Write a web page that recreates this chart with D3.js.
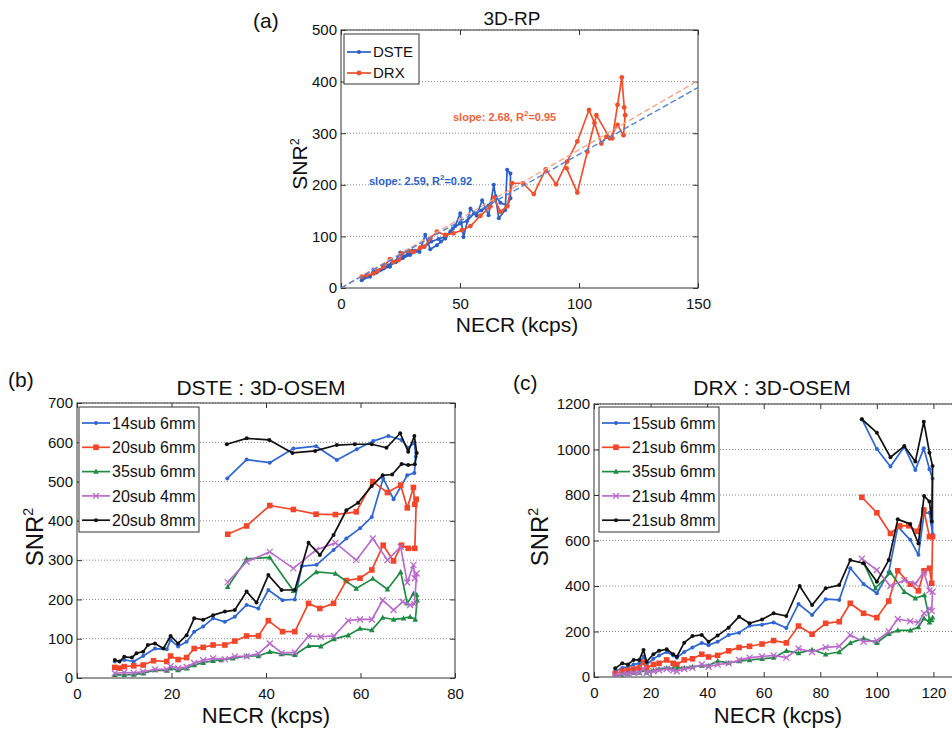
<!DOCTYPE html>
<html>
<head>
<meta charset="utf-8">
<script src="https://cdn.jsdelivr.net/npm/d3@7"></script>
<style>
  body { margin: 0; background: #fff; }
  text { font-family: "Liberation Sans", Arial, Helvetica, sans-serif; fill: #111; }
</style>
</head>
<body>
<svg id="chart" width="952" height="731"></svg>
<script>
// ---------- DATA ----------
// (a) 3D-RP : [NECR, SNR^2]
const dsteRP = [[8.7,15],[10,20],[11,24],[12.2,22],[13.6,36],[15,30],[16.4,35],[18,38],[20.6,41],[21.3,48],[23,52],[24.9,69],[26.3,61],[28,66],[30,72],[31.2,72],[33,70],[35.4,103],[37.5,75],[40.3,83],[42,90],[43.8,96],[46,110],[48,120],[50.1,145],[51.5,99],[54.4,154],[57,140],[59.3,170],[62,141],[64.2,200],[66.3,135],[69,151],[69.8,229],[71.2,222],[71.2,174],[70,160],[67,165],[65,178],[62,160],[59,150],[56,145],[53,130],[50,125],[47,115],[44,100],[41,95],[38,90],[35,80],[32,72],[29,64],[26,58],[23,50],[20,44],[17,36],[14,29],[11,22],[9,17]]
const drxRP = [[8.7,22],[10.8,25],[13.6,28],[15.5,33],[17.8,41],[20.6,56],[22,50],[24.2,54],[25.6,67],[28.4,72],[30.5,70],[33.3,78],[35,80],[37.5,96],[40.3,109],[43.8,103],[47.3,106],[50.8,112],[54.4,120],[58.6,140],[62.8,158],[64.2,175],[67,148],[69.8,158],[71.9,203],[76.5,203],[81,182],[86,230],[90.4,201],[95,245],[99.3,284],[104.2,345],[106.5,320],[109.4,280],[111.5,293],[114,290],[116.2,355],[118,408],[119,350],[119.4,335],[118.7,296],[116.2,316],[113,290],[107.3,335],[103.5,264],[99.3,185],[94.8,232]]
const fitSlopes = { dste: 2.59, drx: 2.68 }

// (b) DSTE : 3D-OSEM
const dste14sub6 = [[8,42],[10,46],[12,42],[14,56],[16.5,75],[19,73],[19.8,97],[21.4,80],[23.2,92],[24.8,118],[26.7,131],[28.8,152],[31.3,143],[33.4,156],[35.9,186],[38.4,177],[40.5,224],[43.5,198],[46.1,200],[47.6,285],[50.7,288],[54.3,326],[57,355],[59.9,381],[62.4,410],[64.8,508],[67,455],[69.9,516],[71.4,522],[71.7,563],
  [71.4,599],[70.1,586],[68.7,606],[65.9,616],[62.7,603],[59.2,582],[55,555],[50.6,590],[45.8,584],[40.8,548],[35.9,556],[31.8,508]]
const dste20sub6 = [[8,27],[9,25],[10,29],[12,31],[14,33],[16.2,44],[19,42],[19.8,56],[21.4,47],[23.2,52],[24.8,75],[26.7,78],[28.8,84],[31.3,84],[33.4,94],[35.9,107],[38.4,107],[40.5,146],[43.5,118],[46.1,118],[49,190],[51.4,177],[54.3,190],[57,248],[59.9,254],[62.4,275],[64.8,338],[67,298],[68.7,338],[70.1,330],[71.5,330],
  [71.8,455],[71.5,442],[71.2,485],[69.9,433],[68.5,491],[65.7,472],[62.6,500],[59.1,423],[54.7,416],[50.6,417],[45.8,429],[40.8,439],[35.9,387],[31.9,366]]
const dste35sub6 = [[8,8],[10,8],[12,9],[14,12],[16.5,20],[19,19],[19.8,25],[21.4,20],[23.2,25],[24.8,33],[26.7,39],[28.8,44],[30.5,46],[33,50],[35.9,56],[38.4,56],[40.8,67],[43.3,61],[46.1,59],[49,82],[51.6,81],[54.4,99],[57.4,109],[59.9,126],[62.4,122],[64.7,154],[67,149],[69.1,152],[70.5,156],[71.6,149],
  [72,198],[71.9,212],[71.2,215],[69.9,190],[68.5,270],[65.7,226],[62.6,253],[59.1,228],[54.7,266],[50.6,270],[45.8,222],[40.8,307],[35.9,303],[31.9,232]]
const dste20sub4 = [[8,12],[10,14],[12,13],[14,16],[16.5,22],[19,22],[19.8,30],[21.4,25],[23.2,28],[24.8,38],[26.7,45],[28.8,50],[31.3,48],[33.4,55],[35.9,55],[38.4,62],[40.8,88],[43.3,64],[46.1,65],[49,107],[51.6,105],[54.4,107],[57.4,146],[59.9,149],[62.4,149],[64.7,198],[67,173],[68.9,194],[70.5,186],[71.4,188],
  [71.9,266],[71.5,254],[71.2,288],[69.9,243],[68.5,334],[65.7,300],[62.6,355],[59.1,300],[54.7,344],[50.6,326],[45.8,279],[40.8,321],[35.9,296],[31.9,244]]
const dste20sub8 = [[8,46],[9,42],[10,54],[11.6,52],[12.6,63],[14,67],[15,84],[16.5,88],[18.3,75],[19.8,107],[21.4,88],[23.2,109],[24.8,152],[26.7,148],[28.8,160],[31.3,169],[33.4,173],[35.9,220],[38,192],[40.5,262],[43.3,224],[46.1,224],[49,344],[51.4,313],[54.3,364],[57,427],[59.5,446],[62.4,489],[64.7,516],[66.7,518],[68.7,545],[70.1,542],[71.5,544],
  [71.9,573],[71.4,616],[70.1,576],[68.4,623],[65.5,586],[62.4,595],[58.8,595],[55,593],[50.4,578],[45.6,573],[40.7,606],[35.9,610],[31.7,595]]

// (c) DRX : 3D-OSEM
const drx15sub6 = [[7.5,25],[10,40],[12,45],[14,55],[16,60],[17.5,90],[18.6,55],[21,80],[23,95],[25.7,110],[28,95],[29.3,85],[31.9,110],[34.8,130],[38.1,150],[40.5,140],[43.7,155],[47.6,185],[51.3,195],[55,225],[59.4,230],[63.5,240],[68,215],[72.3,321],[77.1,273],[81.9,342],[86.7,339],[90.6,478],[95.3,409],[100,368],[104.2,460],[107.4,661],[111.8,603],[114.7,537],[116.7,720],[118.6,722],[119.7,627],
  [119.7,873],[118.6,913],[116.6,1005],[113.6,910],[109.7,1012],[104.8,925],[100,1002],[94.7,1133]]
const drx21sub6 = [[7.5,15],[10,25],[12,30],[14,35],[16,40],[17.5,65],[18.6,40],[21,55],[23,60],[25.7,75],[28,60],[29.3,55],[31.9,75],[34.8,80],[38.1,100],[40.5,88],[43.7,95],[47.6,115],[51.3,130],[55,135],[59.4,145],[63.5,160],[68,150],[72.3,224],[77.1,188],[81.9,236],[86.7,243],[90.6,324],[95.3,280],[100,261],[104.2,334],[107.4,467],[111.8,408],[114.7,379],[116.7,467],[118.6,478],[119.4,412],
  [119.7,617],[118.6,617],[116.6,734],[114.3,640],[111.3,665],[108.1,664],[104.8,631],[100,722],[94.7,790]]
const drx35sub6 = [[7.5,5],[10,10],[12,15],[14,18],[16,20],[17.5,30],[18.6,20],[21,30],[23,35],[25.7,40],[28,38],[29.3,40],[31.9,40],[34.8,45],[38.1,50],[40.5,50],[43.7,70],[47.6,62],[51.3,70],[55,75],[59.4,80],[63.5,85],[68,115],[72.3,105],[77.1,120],[81.9,100],[86.7,110],[90.6,150],[95.3,170],[100,150],[104.2,190],[107.4,205],[111.8,205],[114.7,220],[116.7,258],[118.6,240],[119.4,250],
  [119.7,262],[118.6,253],[116.8,360],[113.6,346],[109.7,375],[104.8,459],[99.5,390],[95.3,503]]
const drx21sub4 = [[7.5,8],[10,12],[12,15],[14,18],[16,20],[17.5,35],[18.6,18],[21,25],[23,30],[25.7,35],[28,30],[29.3,25],[31.9,35],[34.8,40],[38.1,55],[40.5,45],[43.7,55],[47.6,60],[51.3,75],[55,85],[59.4,90],[63.5,95],[68,85],[72.3,125],[77.1,110],[81.9,130],[86.7,135],[90.6,185],[95.3,155],[100,160],[104.2,200],[107.4,255],[111.8,245],[114.7,240],[116.7,280],[118.6,300],[119.4,290],
  [119.7,375],[118.6,380],[116.6,460],[113.6,410],[109.7,425],[104.8,400],[100,470],[94.7,520]]
const drx21sub8 = [[7.5,38],[10,60],[12,55],[14,75],[16,75],[17.5,119],[18.6,67],[21,100],[23,115],[25.7,122],[28,100],[29.3,89],[31.9,151],[34.8,180],[38.1,185],[40.5,155],[43.7,182],[47.6,217],[51.3,265],[55,236],[59.4,253],[63.5,280],[68,268],[72.7,400],[77.1,316],[81.9,390],[86.7,404],[90.6,514],[95.3,500],[100,419],[104.2,514],[107.4,693],[111.8,673],[114.7,587],[116.7,796],[118.6,771],[119.4,683],
  [119.7,927],[118.6,986],[116.6,1122],[113.6,947],[109.7,1015],[104.8,966],[100,1074],[94.7,1133]]

// tick values
const ticksA = { x: [0, 50, 100, 150], y: [0, 100, 200, 300, 400, 500] }
const ticksB = { x: [0, 20, 40, 60, 80], y: [0, 100, 200, 300, 400, 500, 600, 700] }
const ticksC = { x: [0, 20, 40, 60, 80, 100, 120], y: [0, 200, 400, 600, 800, 1000, 1200] }

const labelsB = ["14sub 6mm", "20sub 6mm", "35sub 6mm", "20sub 4mm", "20sub 8mm"]
const labelsC = ["15sub 6mm", "21sub 6mm", "35sub 6mm", "21sub 4mm", "21sub 8mm"]

// ---------- STYLE ----------
const col = {
  blue: "#2f66d0",
  red: "#f2452a",
  green: "#1f8b45",
  magenta: "#b96ccb",
  black: "#111111",
}

const svg = d3.select("#chart")

function drawMarker(g, type, color) {
  if (type === "dot") {
    g.append("circle").attr("r", 2).attr("fill", color)
  } else if (type === "circle") {
    g.append("circle").attr("r", 2.4).attr("fill", color)
  } else if (type === "square") {
    g.append("rect").attr("x", -2.8).attr("y", -2.8).attr("width", 5.6).attr("height", 5.6).attr("fill", color)
  } else if (type === "tri") {
    g.append("path").attr("d", "M0,-3 L2.8,2.2 L-2.8,2.2 Z").attr("fill", color)
  } else if (type === "x") {
    g.append("path").attr("d", "M-3,-3 L3,3 M-3,3 L3,-3").attr("stroke", color).attr("stroke-width", 1.3)
  }
}

function drawPanel(cfg) {
  const g = svg.append("g")
  const xScale = d3.scaleLinear().domain(cfg.xDomain).range([cfg.left, cfg.right])
  const yScale = d3.scaleLinear().domain(cfg.yDomain).range([cfg.bottom, cfg.top])

  const clipId = "clip-" + cfg.id
  svg.append("clipPath").attr("id", clipId)
    .append("rect")
    .attr("x", cfg.left).attr("y", cfg.top)
    .attr("width", cfg.right - cfg.left).attr("height", cfg.bottom - cfg.top)

  // grid (horizontal dotted)
  g.selectAll(".grid")
    .data(cfg.yTicks.slice(1))
    .join("line")
    .attr("x1", cfg.left).attr("x2", cfg.right)
    .attr("y1", d => yScale(d)).attr("y2", d => yScale(d))
    .attr("stroke", "#8a8a8a")
    .attr("stroke-width", 1)
    .attr("stroke-dasharray", "1,2")

  // frame
  g.append("rect")
    .attr("x", cfg.left).attr("y", cfg.top)
    .attr("width", cfg.right - cfg.left).attr("height", cfg.bottom - cfg.top)
    .attr("fill", "none").attr("stroke", "#333").attr("stroke-width", 1)

  // axes (matlab style: inward ticks on all four sides)
  const fmt = d3.format("d")
  const xAxis = g.append("g")
    .attr("transform", `translate(0,${cfg.bottom})`)
    .call(d3.axisBottom(xScale).tickValues(cfg.xTicks).tickFormat(fmt).tickSizeInner(-5).tickSizeOuter(0).tickPadding(10))
  const xTop = g.append("g")
    .attr("transform", `translate(0,${cfg.top})`)
    .call(d3.axisTop(xScale).tickValues(cfg.xTicks).tickSizeInner(-5).tickSizeOuter(0).tickFormat(""))
  const yAxis = g.append("g")
    .attr("transform", `translate(${cfg.left},0)`)
    .call(d3.axisLeft(yScale).tickValues(cfg.yTicks).tickFormat(fmt).tickSizeInner(-5).tickSizeOuter(0).tickPadding(4))
  const yRight = g.append("g")
    .attr("transform", `translate(${cfg.right},0)`)
    .call(d3.axisRight(yScale).tickValues(cfg.yTicks).tickSizeInner(-5).tickSizeOuter(0).tickFormat(""))

  ;[xAxis, xTop, yAxis, yRight].forEach(a => {
    a.select(".domain").remove()
    a.selectAll("line").attr("stroke", "#333")
    a.selectAll("text").attr("font-size", 15).attr("font-family", null).attr("fill", "#111")
  })

  // series
  const line = d3.line().x(d => xScale(d[0])).y(d => yScale(d[1]))
  const plot = g.append("g").attr("clip-path", `url(#${clipId})`)
  cfg.series.forEach(s => {
    plot.append("path")
      .datum(s.data)
      .attr("d", line)
      .attr("fill", "none")
      .attr("stroke", s.color)
      .attr("stroke-width", 1.7)
      .attr("stroke-linejoin", "round")
    plot.selectAll(null)
      .data(s.data)
      .join("g")
      .attr("transform", d => `translate(${xScale(d[0])},${yScale(d[1])})`)
      .each(function () { drawMarker(d3.select(this), s.marker, s.color) })
  })

  if (cfg.extra) cfg.extra(plot, g, xScale, yScale)

  // texts
  g.append("text")
    .attr("x", cfg.titleX).attr("y", cfg.titleY)
    .attr("text-anchor", "middle")
    .attr("font-size", cfg.titleSize)
    .text(cfg.title)
  g.append("text")
    .attr("x", cfg.letterX).attr("y", cfg.letterY)
    .attr("font-size", 21)
    .text(cfg.letter)
  g.append("text")
    .attr("x", cfg.xLabelX).attr("y", cfg.xLabelY)
    .attr("text-anchor", "middle")
    .attr("font-size", cfg.labelSize)
    .text("NECR (kcps)")
  const yl = g.append("text")
    .attr("transform", `translate(${cfg.yLabelX},${cfg.yLabelY}) rotate(-90)`)
    .attr("text-anchor", "middle")
    .attr("font-size", cfg.yLabelSize)
  yl.append("tspan").text("SNR")
  yl.append("tspan").attr("dy", -cfg.yLabelSize * 0.4).attr("font-size", cfg.yLabelSize * 0.6).text("2")

  // legend
  const lg = cfg.legend
  const legendGroup = g.append("g")
  legendGroup.append("rect")
    .attr("x", lg.x).attr("y", lg.y).attr("width", lg.w).attr("height", lg.h)
    .attr("fill", "#fff").attr("stroke", "#333").attr("stroke-width", 1)
  cfg.series.forEach((s, i) => {
    const y = lg.y + lg.first + lg.step * i
    legendGroup.append("line")
      .attr("x1", lg.x + 3).attr("x2", lg.x + 3 + lg.lineW)
      .attr("y1", y).attr("y2", y)
      .attr("stroke", s.color).attr("stroke-width", 1.7)
    const m = legendGroup.append("g").attr("transform", `translate(${lg.x + 3 + lg.lineW / 2},${y})`)
    drawMarker(m, s.marker, s.color)
    legendGroup.append("text")
      .attr("x", lg.x + 5 + lg.lineW).attr("y", y + lg.fontSize * 0.36)
      .attr("font-size", lg.fontSize)
      .text(s.name)
  })
}

// ---------- PANEL (a) ----------
drawPanel({
  id: "a",
  left: 341, right: 698, top: 30, bottom: 288,
  xDomain: [0, 150], yDomain: [0, 500],
  xTicks: ticksA.x, yTicks: ticksA.y,
  title: "3D-RP", titleX: 512, titleY: 25, titleSize: 19,
  letter: "(a)", letterX: 253, letterY: 28,
  xLabelX: 517, xLabelY: 332, yLabelX: 307, yLabelY: 164, labelSize: 21, yLabelSize: 21,
  series: [
    { name: "DSTE", data: dsteRP, color: "#2a5fc6", marker: "dot" },
    { name: "DRX", data: drxRP, color: "#f0502c", marker: "circle" },
  ],
  legend: { x: 344, y: 34, w: 75, h: 50, first: 18, step: 21, lineW: 24, fontSize: 15 },
  extra: (plot, g, x, y) => {
    const fits = [
      { slope: fitSlopes.drx, color: "#f6a68c" },
      { slope: fitSlopes.dste, color: "#4d82da" },
    ]
    fits.forEach(f => {
      plot.append("line")
        .attr("x1", x(0)).attr("y1", y(0))
        .attr("x2", x(150)).attr("y2", y(150 * f.slope))
        .attr("stroke", f.color).attr("stroke-width", 1.4)
        .attr("stroke-dasharray", "6,3")
    })
    const notes = [
      { text: "slope: 2.68, R", rest: "=0.95", color: "#f0623e", x: 453, y: 121 },
      { text: "slope: 2.59, R", rest: "=0.92", color: "#2f62c8", x: 369, y: 185 },
    ]
    notes.forEach(n => {
      const t = g.append("text").attr("x", n.x).attr("y", n.y)
        .attr("font-size", 11).attr("font-weight", "bold")
      t.append("tspan").attr("fill", n.color).text(n.text)
      t.append("tspan").attr("fill", n.color).attr("dy", -5).attr("font-size", 8).text("2")
      t.append("tspan").attr("fill", n.color).attr("dy", 5).text(n.rest)
    })
  },
})

// ---------- PANEL (b) ----------
drawPanel({
  id: "b",
  left: 77, right: 455, top: 403, bottom: 678,
  xDomain: [0, 80], yDomain: [0, 700],
  xTicks: ticksB.x, yTicks: ticksB.y,
  title: "DSTE : 3D-OSEM", titleX: 261, titleY: 395, titleSize: 21,
  letter: "(b)", letterX: 8, letterY: 387,
  xLabelX: 266, xLabelY: 723, yLabelX: 43, yLabelY: 537, labelSize: 22, yLabelSize: 24,
  series: [
    { name: labelsB[0], data: dste14sub6, color: col.blue, marker: "dot" },
    { name: labelsB[1], data: dste20sub6, color: col.red, marker: "square" },
    { name: labelsB[2], data: dste35sub6, color: col.green, marker: "tri" },
    { name: labelsB[3], data: dste20sub4, color: col.magenta, marker: "x" },
    { name: labelsB[4], data: dste20sub8, color: col.black, marker: "dot" },
  ],
  legend: { x: 79, y: 407, w: 120, h: 125, first: 16, step: 24.3, lineW: 28, fontSize: 16 },
})

// ---------- PANEL (c) ----------
drawPanel({
  id: "c",
  left: 594, right: 990, top: 404, bottom: 677,
  xDomain: [0, 140], yDomain: [0, 1200],
  xTicks: ticksC.x, yTicks: ticksC.y,
  title: "DRX : 3D-OSEM", titleX: 772, titleY: 395, titleSize: 21,
  letter: "(c)", letterX: 513, letterY: 390,
  xLabelX: 778, xLabelY: 723, yLabelX: 548, yLabelY: 537, labelSize: 22, yLabelSize: 24,
  series: [
    { name: labelsC[0], data: drx15sub6, color: col.blue, marker: "dot" },
    { name: labelsC[1], data: drx21sub6, color: col.red, marker: "square" },
    { name: labelsC[2], data: drx35sub6, color: col.green, marker: "tri" },
    { name: labelsC[3], data: drx21sub4, color: col.magenta, marker: "x" },
    { name: labelsC[4], data: drx21sub8, color: col.black, marker: "dot" },
  ],
  legend: { x: 599, y: 407, w: 120, h: 125, first: 16, step: 24.3, lineW: 28, fontSize: 16 },
})
</script>
</body>
</html>
